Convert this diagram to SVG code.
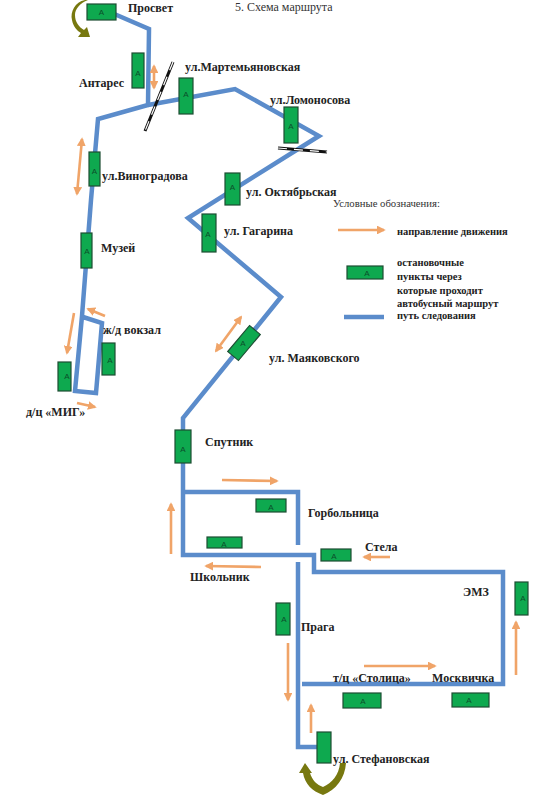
<svg xmlns="http://www.w3.org/2000/svg" width="552" height="798" viewBox="0 0 552 798">
<style>
.route{fill:none;stroke:#5b8ccb;stroke-width:4.500;stroke-linejoin:miter}
.dir{fill:none;stroke:#f0a468;stroke-width:2.600}
.rail1{stroke:#111;stroke-width:3;fill:none}
.rail2{stroke:#fff;stroke-width:1.200;fill:none;stroke-dasharray:9 7}
.stop{fill:#0ea94f;stroke:#1d4d33;stroke-width:1.200}
.a{font-family:"Liberation Sans",sans-serif;font-size:8px;fill:#0b4f2a;text-anchor:middle}
.l{font-family:"Liberation Serif",serif;font-weight:bold;font-size:12px;fill:#222}
.s{font-family:"Liberation Serif",serif;font-weight:bold;font-size:10.500px;fill:#222}
.t{font-family:"Liberation Serif",serif;font-size:12px;fill:#333}
.u{font-family:"Liberation Serif",serif;font-size:10.700px;fill:#333}
.turn{fill:#77780f}
</style>
<defs>
<marker id="h" viewBox="0 0 10 10" refX="8" refY="5" markerWidth="3.400" markerHeight="3.400" orient="auto-start-reverse"><path d="M0 0L10 5L0 10z" fill="#f0a468"/></marker>
</defs>
<g id="connectors">
<path class="route" d="M112 13L149 29L148 105L98 119L91 200L82 316L75 391L96 393L102 323L83 317"/>
<path class="route" d="M148 105L235 89L319 136L188 218L281 297L183 418L183 555L314 555L314 572L503 572L503 684L302 684"/>
<path class="route" d="M183 492L298 492L298 545"/>
<path class="route" d="M298 562L298 747L320 747"/>
<path class="rail1" d="M173 62L145 131"/><path class="rail2" d="M173 62L145 131"/>
<path class="rail1" d="M278 148L327 152"/><path class="rail2" d="M278 148L327 152"/>
<g class="dir" marker-end="url(#h)">
<path d="M154 66L154 88" marker-start="url(#h)" marker-end="url(#h)"/>
<path d="M82 139L77 194" marker-start="url(#h)" marker-end="url(#h)"/>
<path d="M105 316L88 309" marker-end="url(#h)"/>
<path d="M74 313L67 353" marker-end="url(#h)"/>
<path d="M77 403L95 407" marker-end="url(#h)"/>
<path d="M241 317L216 351" marker-start="url(#h)" marker-end="url(#h)"/>
<path d="M222 480L277 481" marker-end="url(#h)"/>
<path d="M171 554L171 504" marker-end="url(#h)"/>
<path d="M261 567L206 566" marker-end="url(#h)"/>
<path d="M390 557L364 557" marker-end="url(#h)"/>
<path d="M288 643L288 700" marker-end="url(#h)"/>
<path d="M311 733L311 705" marker-end="url(#h)"/>
<path d="M364 666L435 666" marker-end="url(#h)"/>
<path d="M516 675L516 622" marker-end="url(#h)"/>
</g>
</g>
<path id="turn-top" class="turn" d="M85 0C75 2 70 12 72 20C73 26 77 31 81 33L78 37L90 37L87 27L84 30C79 27 75 22 75 15C75 9 80 3 88 0Z"/>
<path id="turn-bottom" class="turn" d="M340 763L346 763C345 778 336 790 323 795C312 791 305 784 303 773L299 773L305 763L312 773L310 773C312 780 317 785 323 787C332 783 339 775 340 763Z"/>
<g id="n1"><rect class="stop" x="87" y="4" width="29" height="16"/><text class="a" x="101.500" y="15">A</text><text class="l" x="128" y="12">Просвет</text></g>
<text class="t" x="235" y="11">5. Схема маршрута</text>
<g id="n2"><rect class="stop" x="132" y="53" width="12" height="35"/><text class="a" x="138" y="76">A</text><text class="l" x="79" y="87">Антарес</text></g>
<g id="n3"><rect class="stop" x="179" y="78" width="14" height="36"/><text class="a" x="186" y="97">A</text><text class="l" x="185" y="71">ул.Мартемьяновская</text></g>
<g id="n4"><rect class="stop" x="284" y="107" width="14" height="36"/><text class="a" x="291" y="129">A</text><text class="l" x="270" y="104">ул.Ломоносова</text></g>
<g id="n5"><rect class="stop" x="89" y="152" width="11" height="34"/><text class="a" x="94.500" y="174">A</text><text class="l" x="102" y="180">ул.Виноградова</text></g>
<g id="n6"><rect class="stop" x="225" y="173" width="15" height="32"/><text class="a" x="232.500" y="190">A</text><text class="l" x="246" y="196">ул. Октябрьская</text></g>
<g id="n7"><rect class="stop" x="202" y="214" width="14" height="38"/><text class="a" x="208" y="237">A</text><text class="l" x="224" y="235">ул. Гагарина</text></g>
<g id="n8"><rect class="stop" x="81" y="233" width="11" height="35"/><text class="a" x="87" y="254">A</text><text class="l" x="101" y="252">Музей</text></g>
<g id="n9"><rect class="stop" x="102" y="343" width="13" height="32"/><text class="a" x="110" y="363">A</text><text class="l" x="103" y="334">ж/д вокзал</text></g>
<g id="n10"><rect class="stop" x="58" y="362" width="13" height="29"/><text class="a" x="67" y="379">A</text><text class="l" x="26" y="416">д/ц «МИГ»</text></g>
<g id="n11"><rect class="stop" x="237" y="326" width="14" height="34" transform="rotate(40 244 343)"/><text class="a" x="243" y="346">A</text><text class="l" x="269" y="362">ул. Маяковского</text></g>
<g id="n12"><rect class="stop" x="175" y="430" width="16" height="33"/><text class="a" x="183" y="452">A</text><text class="l" x="205" y="446">Спутник</text></g>
<g id="n13"><rect class="stop" x="256" y="499" width="30" height="13"/><text class="a" x="271" y="510">A</text><text class="l" x="308" y="517">Горбольница</text></g>
<g id="n14"><rect class="stop" x="207" y="537" width="35" height="11"/><text class="a" x="224" y="547">A</text><text class="l" x="190" y="581">Школьник</text></g>
<g id="n15"><rect class="stop" x="321" y="549" width="30" height="12"/><text class="a" x="334" y="559">A</text><text class="l" x="365" y="551">Стела</text></g>
<g id="n16"><rect class="stop" x="276" y="603" width="14" height="32"/><text class="a" x="284" y="622">A</text><text class="l" x="301" y="631">Прага</text></g>
<g id="n17"><rect class="stop" x="515" y="582" width="13" height="33"/><text class="a" x="523" y="601">A</text><text class="l" x="463" y="596">ЭМЗ</text></g>
<g id="n18"><rect class="stop" x="343" y="693" width="38" height="15"/><text class="a" x="363" y="704">A</text><text class="l" x="333" y="682">т/ц «Столица»</text></g>
<g id="n19"><rect class="stop" x="452" y="693" width="37" height="14"/><text class="a" x="469" y="703">A</text><text class="l" x="432" y="682">Москвичка</text></g>
<g id="n20"><rect class="stop" x="317" y="732" width="14" height="31"/><text class="l" x="333" y="763">ул. Стефановская</text></g>
<g id="legend">
<text class="u" x="333" y="207">Условные обозначения:</text>
<path class="dir" d="M338 230L384 230" marker-end="url(#h)"/>
<text class="s" x="397" y="235">направление движения</text>
<rect class="stop" x="347" y="266" width="36" height="13"/><text class="a" x="367" y="276">A</text>
<text class="s" x="397" y="266">остановочные</text>
<text class="s" x="397" y="280">пункты через</text>
<text class="s" x="397" y="294">которые проходит</text>
<text class="s" x="397" y="307">автобусный маршрут</text>
<path class="route" d="M344 317L384 317"/>
<text class="s" x="397" y="319">путь следования</text>
</g>
</svg>
